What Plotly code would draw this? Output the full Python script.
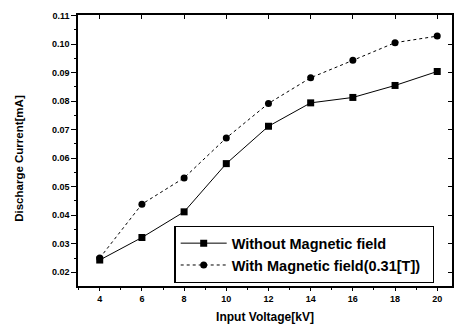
import plotly.graph_objects as go

voltage = [4, 6, 8, 10, 12, 14, 16, 18, 20]
without_field = [0.0243, 0.0322, 0.0412, 0.0581, 0.0712, 0.0794, 0.0813, 0.0855, 0.0904]
with_field = [0.0250, 0.0439, 0.0531, 0.0671, 0.0792, 0.0882, 0.0943, 0.1005, 0.1028]
y_ticks = [0.02, 0.03, 0.04, 0.05, 0.06, 0.07, 0.08, 0.09, 0.10, 0.11]
x_ticks = [4, 6, 8, 10, 12, 14, 16, 18, 20]

font = "Liberation Sans, Arial, sans-serif"

fig = go.Figure()
fig.add_trace(go.Scatter(
    x=voltage, y=without_field, mode="lines+markers",
    name="<b>Without Magnetic field</b>",
    line=dict(color="black", width=1),
    marker=dict(symbol="square", size=7, color="black"),
))
fig.add_trace(go.Scatter(
    x=voltage, y=with_field, mode="lines+markers",
    name="<b>With Magnetic field(0.31[T])</b>&nbsp;&nbsp;",
    line=dict(color="black", width=1, dash="dot"),
    marker=dict(symbol="circle", size=7, color="black"),
))

axis_common = dict(
    showgrid=False, zeroline=False, linecolor="black", linewidth=1.5,
    tickcolor="black", tickfont=dict(family=font, size=9, color="black"),
)

fig.update_layout(
    width=455, height=328,
    margin=dict(l=78, r=1, t=15, b=42),
    paper_bgcolor="white", plot_bgcolor="white",
    font=dict(family=font, color="black"),
    showlegend=True,
    legend=dict(
        x=0.258, y=0.011, xanchor="left", yanchor="bottom",
        bordercolor="black", borderwidth=1.2, bgcolor="white",
        font=dict(family=font, size=14.5, color="black"),
        tracegroupgap=0, itemwidth=46,
    ),
    xaxis=dict(
        range=[2.97, 20.7], tickvals=x_ticks, ticktext=[f"<b>{v}</b>" for v in x_ticks],
        ticks="outside", ticklen=3, mirror=True,
        minor=dict(dtick=1, tick0=0, ticks="outside", ticklen=2, tickcolor="black"),
        title=dict(text="<b>Input Voltage[kV]</b>", font=dict(family=font, size=12, color="black"), standoff=10),
        **axis_common,
    ),
    yaxis=dict(
        range=[0.0152, 0.1102], tickvals=y_ticks, ticktext=[f"<b>{v:.2f}</b>" for v in y_ticks],
        ticks="outside", ticklen=5, mirror=True,
        minor=dict(dtick=0.005, tick0=0, ticks="outside", ticklen=2, tickcolor="black"),
        **axis_common,
    ),
    xaxis2=dict(
        overlaying="x", side="top", matches="x", range=[2.97, 20.7], tickvals=x_ticks,
        showticklabels=False, ticks="inside", ticklen=4, showline=False, showgrid=False, zeroline=False,
        tickcolor="black",
    ),
    yaxis2=dict(
        overlaying="y", side="right", matches="y", range=[0.0152, 0.1102], tickvals=y_ticks,
        showticklabels=False, ticks="inside", ticklen=4, showline=False, showgrid=False, zeroline=False,
        tickcolor="black",
    ),
    annotations=[dict(
        text="<b>Discharge Current[mA]</b>", textangle=-90,
        xref="paper", yref="paper", x=-0.16, y=0.47, xanchor="center", yanchor="middle",
        showarrow=False, font=dict(family=font, size=11.5, color="black"),
    )],
)
# invisible trace to activate the mirrored tick axes
fig.add_trace(go.Scatter(x=[None], y=[None], xaxis="x2", yaxis="y2", showlegend=False, hoverinfo="skip"))

fig.write_html("out.html")
